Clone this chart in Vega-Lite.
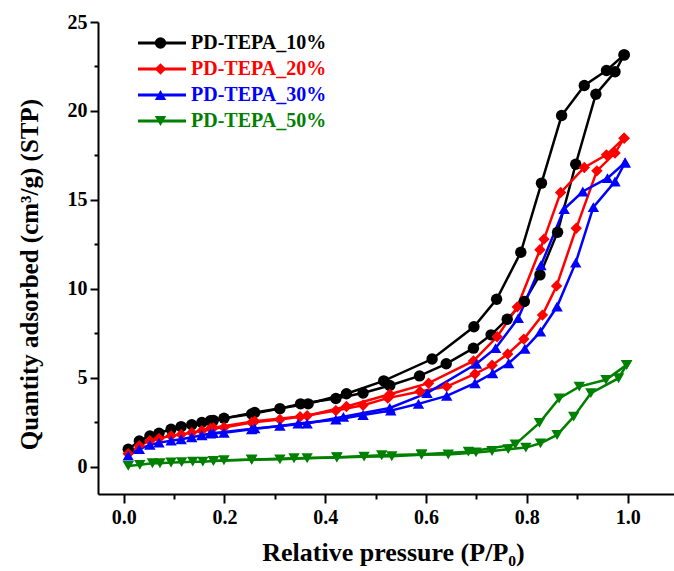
{
  "$schema": "https://vega.github.io/schema/vega-lite/v6.json",
  "width": 576,
  "height": 472,
  "autosize": {"type": "none"},
  "padding": {"left": 98, "top": 22, "right": 0, "bottom": 77},
  "background": "white",
  "config": {
    "view": {"stroke": null},
    "font": "Liberation Serif",
    "axis": {
      "grid": false,
      "domainColor": "black",
      "domainWidth": 2,
      "tickColor": "black",
      "tickWidth": 2,
      "labelColor": "black",
      "labelFont": "Liberation Serif",
      "labelFontSize": 20,
      "labelFontWeight": "bold",
      "labelOverlap": false,
      "labelFlush": false,
      "titleFont": "Liberation Serif",
      "titleFontSize": 26,
      "titleFontWeight": "bold",
      "titleColor": "black"
    }
  },
  "data": {
    "values": [
      {"s": "PD-TEPA_10%", "b": "a", "i": 0, "p": 0.009, "v": 0.98},
      {"s": "PD-TEPA_10%", "b": "a", "i": 1, "p": 0.031, "v": 1.44},
      {"s": "PD-TEPA_10%", "b": "a", "i": 2, "p": 0.052, "v": 1.72},
      {"s": "PD-TEPA_10%", "b": "a", "i": 3, "p": 0.07, "v": 1.88},
      {"s": "PD-TEPA_10%", "b": "a", "i": 4, "p": 0.094, "v": 2.1},
      {"s": "PD-TEPA_10%", "b": "a", "i": 5, "p": 0.114, "v": 2.25},
      {"s": "PD-TEPA_10%", "b": "a", "i": 6, "p": 0.135, "v": 2.35},
      {"s": "PD-TEPA_10%", "b": "a", "i": 7, "p": 0.155, "v": 2.48},
      {"s": "PD-TEPA_10%", "b": "a", "i": 8, "p": 0.172, "v": 2.58},
      {"s": "PD-TEPA_10%", "b": "a", "i": 9, "p": 0.199, "v": 2.72},
      {"s": "PD-TEPA_10%", "b": "a", "i": 10, "p": 0.254, "v": 2.96},
      {"s": "PD-TEPA_10%", "b": "a", "i": 11, "p": 0.31, "v": 3.26},
      {"s": "PD-TEPA_10%", "b": "a", "i": 12, "p": 0.351, "v": 3.53},
      {"s": "PD-TEPA_10%", "b": "a", "i": 13, "p": 0.421, "v": 3.83},
      {"s": "PD-TEPA_10%", "b": "a", "i": 14, "p": 0.475, "v": 4.14},
      {"s": "PD-TEPA_10%", "b": "a", "i": 15, "p": 0.528, "v": 4.56},
      {"s": "PD-TEPA_10%", "b": "a", "i": 16, "p": 0.587, "v": 5.1},
      {"s": "PD-TEPA_10%", "b": "a", "i": 17, "p": 0.64, "v": 5.78},
      {"s": "PD-TEPA_10%", "b": "a", "i": 18, "p": 0.694, "v": 6.66},
      {"s": "PD-TEPA_10%", "b": "a", "i": 19, "p": 0.729, "v": 7.41},
      {"s": "PD-TEPA_10%", "b": "a", "i": 20, "p": 0.761, "v": 8.29},
      {"s": "PD-TEPA_10%", "b": "a", "i": 21, "p": 0.795, "v": 9.28},
      {"s": "PD-TEPA_10%", "b": "a", "i": 22, "p": 0.826, "v": 10.78},
      {"s": "PD-TEPA_10%", "b": "a", "i": 23, "p": 0.861, "v": 13.18},
      {"s": "PD-TEPA_10%", "b": "a", "i": 24, "p": 0.897, "v": 17.0},
      {"s": "PD-TEPA_10%", "b": "a", "i": 25, "p": 0.937, "v": 20.94},
      {"s": "PD-TEPA_10%", "b": "a", "i": 26, "p": 0.975, "v": 22.2},
      {"s": "PD-TEPA_10%", "b": "a", "i": 27, "p": 0.993, "v": 23.15},
      {"s": "PD-TEPA_10%", "b": "d", "i": 0, "p": 0.993, "v": 23.15},
      {"s": "PD-TEPA_10%", "b": "d", "i": 1, "p": 0.958, "v": 22.27},
      {"s": "PD-TEPA_10%", "b": "d", "i": 2, "p": 0.914, "v": 21.43},
      {"s": "PD-TEPA_10%", "b": "d", "i": 3, "p": 0.869, "v": 19.74},
      {"s": "PD-TEPA_10%", "b": "d", "i": 4, "p": 0.829, "v": 15.94},
      {"s": "PD-TEPA_10%", "b": "d", "i": 5, "p": 0.788, "v": 12.05},
      {"s": "PD-TEPA_10%", "b": "d", "i": 6, "p": 0.74, "v": 9.41},
      {"s": "PD-TEPA_10%", "b": "d", "i": 7, "p": 0.695, "v": 7.86},
      {"s": "PD-TEPA_10%", "b": "d", "i": 8, "p": 0.612, "v": 6.05},
      {"s": "PD-TEPA_10%", "b": "d", "i": 9, "p": 0.516, "v": 4.82},
      {"s": "PD-TEPA_10%", "b": "d", "i": 10, "p": 0.442, "v": 4.1},
      {"s": "PD-TEPA_10%", "b": "d", "i": 11, "p": 0.366, "v": 3.53},
      {"s": "PD-TEPA_10%", "b": "d", "i": 12, "p": 0.26, "v": 3.04},
      {"s": "PD-TEPA_10%", "b": "d", "i": 13, "p": 0.178, "v": 2.6},

      {"s": "PD-TEPA_20%", "b": "a", "i": 0, "p": 0.009, "v": 0.72},
      {"s": "PD-TEPA_20%", "b": "a", "i": 1, "p": 0.031, "v": 1.18},
      {"s": "PD-TEPA_20%", "b": "a", "i": 2, "p": 0.052, "v": 1.45},
      {"s": "PD-TEPA_20%", "b": "a", "i": 3, "p": 0.07, "v": 1.58},
      {"s": "PD-TEPA_20%", "b": "a", "i": 4, "p": 0.094, "v": 1.73},
      {"s": "PD-TEPA_20%", "b": "a", "i": 5, "p": 0.114, "v": 1.8},
      {"s": "PD-TEPA_20%", "b": "a", "i": 6, "p": 0.135, "v": 1.91},
      {"s": "PD-TEPA_20%", "b": "a", "i": 7, "p": 0.155, "v": 2.02},
      {"s": "PD-TEPA_20%", "b": "a", "i": 8, "p": 0.172, "v": 2.14},
      {"s": "PD-TEPA_20%", "b": "a", "i": 9, "p": 0.199, "v": 2.2},
      {"s": "PD-TEPA_20%", "b": "a", "i": 10, "p": 0.254, "v": 2.48},
      {"s": "PD-TEPA_20%", "b": "a", "i": 11, "p": 0.31, "v": 2.65},
      {"s": "PD-TEPA_20%", "b": "a", "i": 12, "p": 0.35, "v": 2.8},
      {"s": "PD-TEPA_20%", "b": "a", "i": 13, "p": 0.421, "v": 3.15},
      {"s": "PD-TEPA_20%", "b": "a", "i": 14, "p": 0.475, "v": 3.45},
      {"s": "PD-TEPA_20%", "b": "a", "i": 15, "p": 0.524, "v": 3.85},
      {"s": "PD-TEPA_20%", "b": "a", "i": 16, "p": 0.588, "v": 4.22},
      {"s": "PD-TEPA_20%", "b": "a", "i": 17, "p": 0.641, "v": 4.5},
      {"s": "PD-TEPA_20%", "b": "a", "i": 18, "p": 0.697, "v": 5.21},
      {"s": "PD-TEPA_20%", "b": "a", "i": 19, "p": 0.731, "v": 5.7},
      {"s": "PD-TEPA_20%", "b": "a", "i": 20, "p": 0.762, "v": 6.33},
      {"s": "PD-TEPA_20%", "b": "a", "i": 21, "p": 0.794, "v": 7.17},
      {"s": "PD-TEPA_20%", "b": "a", "i": 22, "p": 0.831, "v": 8.52},
      {"s": "PD-TEPA_20%", "b": "a", "i": 23, "p": 0.859, "v": 10.16},
      {"s": "PD-TEPA_20%", "b": "a", "i": 24, "p": 0.898, "v": 13.4},
      {"s": "PD-TEPA_20%", "b": "a", "i": 25, "p": 0.939, "v": 16.63},
      {"s": "PD-TEPA_20%", "b": "a", "i": 26, "p": 0.975, "v": 17.63},
      {"s": "PD-TEPA_20%", "b": "a", "i": 27, "p": 0.993, "v": 18.47},
      {"s": "PD-TEPA_20%", "b": "d", "i": 0, "p": 0.993, "v": 18.47},
      {"s": "PD-TEPA_20%", "b": "d", "i": 1, "p": 0.958, "v": 17.53},
      {"s": "PD-TEPA_20%", "b": "d", "i": 2, "p": 0.914, "v": 16.82},
      {"s": "PD-TEPA_20%", "b": "d", "i": 3, "p": 0.867, "v": 15.41},
      {"s": "PD-TEPA_20%", "b": "d", "i": 4, "p": 0.834, "v": 12.79},
      {"s": "PD-TEPA_20%", "b": "d", "i": 5, "p": 0.826, "v": 12.19},
      {"s": "PD-TEPA_20%", "b": "d", "i": 6, "p": 0.781, "v": 8.98},
      {"s": "PD-TEPA_20%", "b": "d", "i": 7, "p": 0.741, "v": 7.3},
      {"s": "PD-TEPA_20%", "b": "d", "i": 8, "p": 0.694, "v": 5.94},
      {"s": "PD-TEPA_20%", "b": "d", "i": 9, "p": 0.605, "v": 4.69},
      {"s": "PD-TEPA_20%", "b": "d", "i": 10, "p": 0.528, "v": 4.07},
      {"s": "PD-TEPA_20%", "b": "d", "i": 11, "p": 0.442, "v": 3.38},
      {"s": "PD-TEPA_20%", "b": "d", "i": 12, "p": 0.364, "v": 2.86},
      {"s": "PD-TEPA_20%", "b": "d", "i": 13, "p": 0.26, "v": 2.55},
      {"s": "PD-TEPA_20%", "b": "d", "i": 14, "p": 0.178, "v": 2.18},

      {"s": "PD-TEPA_30%", "b": "a", "i": 0, "p": 0.009, "v": 0.62},
      {"s": "PD-TEPA_30%", "b": "a", "i": 1, "p": 0.031, "v": 0.98},
      {"s": "PD-TEPA_30%", "b": "a", "i": 2, "p": 0.052, "v": 1.22},
      {"s": "PD-TEPA_30%", "b": "a", "i": 3, "p": 0.07, "v": 1.35},
      {"s": "PD-TEPA_30%", "b": "a", "i": 4, "p": 0.094, "v": 1.46},
      {"s": "PD-TEPA_30%", "b": "a", "i": 5, "p": 0.114, "v": 1.54},
      {"s": "PD-TEPA_30%", "b": "a", "i": 6, "p": 0.135, "v": 1.65},
      {"s": "PD-TEPA_30%", "b": "a", "i": 7, "p": 0.155, "v": 1.76},
      {"s": "PD-TEPA_30%", "b": "a", "i": 8, "p": 0.172, "v": 1.86},
      {"s": "PD-TEPA_30%", "b": "a", "i": 9, "p": 0.199, "v": 1.9},
      {"s": "PD-TEPA_30%", "b": "a", "i": 10, "p": 0.254, "v": 2.1},
      {"s": "PD-TEPA_30%", "b": "a", "i": 11, "p": 0.31, "v": 2.29},
      {"s": "PD-TEPA_30%", "b": "a", "i": 12, "p": 0.346, "v": 2.42},
      {"s": "PD-TEPA_30%", "b": "a", "i": 13, "p": 0.421, "v": 2.64},
      {"s": "PD-TEPA_30%", "b": "a", "i": 14, "p": 0.475, "v": 2.9},
      {"s": "PD-TEPA_30%", "b": "a", "i": 15, "p": 0.53, "v": 3.15},
      {"s": "PD-TEPA_30%", "b": "a", "i": 16, "p": 0.585, "v": 3.53},
      {"s": "PD-TEPA_30%", "b": "a", "i": 17, "p": 0.641, "v": 3.98},
      {"s": "PD-TEPA_30%", "b": "a", "i": 18, "p": 0.697, "v": 4.69},
      {"s": "PD-TEPA_30%", "b": "a", "i": 19, "p": 0.732, "v": 5.25},
      {"s": "PD-TEPA_30%", "b": "a", "i": 20, "p": 0.764, "v": 5.81},
      {"s": "PD-TEPA_30%", "b": "a", "i": 21, "p": 0.796, "v": 6.63},
      {"s": "PD-TEPA_30%", "b": "a", "i": 22, "p": 0.827, "v": 7.59},
      {"s": "PD-TEPA_30%", "b": "a", "i": 23, "p": 0.86, "v": 9.0},
      {"s": "PD-TEPA_30%", "b": "a", "i": 24, "p": 0.897, "v": 11.47},
      {"s": "PD-TEPA_30%", "b": "a", "i": 25, "p": 0.932, "v": 14.59},
      {"s": "PD-TEPA_30%", "b": "a", "i": 26, "p": 0.975, "v": 16.03},
      {"s": "PD-TEPA_30%", "b": "a", "i": 27, "p": 0.995, "v": 17.1},
      {"s": "PD-TEPA_30%", "b": "d", "i": 0, "p": 0.995, "v": 17.1},
      {"s": "PD-TEPA_30%", "b": "d", "i": 1, "p": 0.96, "v": 16.22},
      {"s": "PD-TEPA_30%", "b": "d", "i": 2, "p": 0.911, "v": 15.47},
      {"s": "PD-TEPA_30%", "b": "d", "i": 3, "p": 0.874, "v": 14.48},
      {"s": "PD-TEPA_30%", "b": "d", "i": 4, "p": 0.828, "v": 11.32},
      {"s": "PD-TEPA_30%", "b": "d", "i": 5, "p": 0.783, "v": 8.35},
      {"s": "PD-TEPA_30%", "b": "d", "i": 6, "p": 0.738, "v": 6.66},
      {"s": "PD-TEPA_30%", "b": "d", "i": 7, "p": 0.7, "v": 5.78},
      {"s": "PD-TEPA_30%", "b": "d", "i": 8, "p": 0.602, "v": 4.13},
      {"s": "PD-TEPA_30%", "b": "d", "i": 9, "p": 0.528, "v": 3.3},
      {"s": "PD-TEPA_30%", "b": "d", "i": 10, "p": 0.436, "v": 2.8},
      {"s": "PD-TEPA_30%", "b": "d", "i": 11, "p": 0.364, "v": 2.42},
      {"s": "PD-TEPA_30%", "b": "d", "i": 12, "p": 0.26, "v": 2.15},
      {"s": "PD-TEPA_30%", "b": "d", "i": 13, "p": 0.178, "v": 1.88},

      {"s": "PD-TEPA_50%", "b": "a", "i": 0, "p": 0.009, "v": 0.04},
      {"s": "PD-TEPA_50%", "b": "a", "i": 1, "p": 0.032, "v": 0.1},
      {"s": "PD-TEPA_50%", "b": "a", "i": 2, "p": 0.057, "v": 0.19},
      {"s": "PD-TEPA_50%", "b": "a", "i": 3, "p": 0.072, "v": 0.19},
      {"s": "PD-TEPA_50%", "b": "a", "i": 4, "p": 0.094, "v": 0.23},
      {"s": "PD-TEPA_50%", "b": "a", "i": 5, "p": 0.115, "v": 0.25},
      {"s": "PD-TEPA_50%", "b": "a", "i": 6, "p": 0.137, "v": 0.28},
      {"s": "PD-TEPA_50%", "b": "a", "i": 7, "p": 0.157, "v": 0.28},
      {"s": "PD-TEPA_50%", "b": "a", "i": 8, "p": 0.178, "v": 0.32},
      {"s": "PD-TEPA_50%", "b": "a", "i": 9, "p": 0.199, "v": 0.36},
      {"s": "PD-TEPA_50%", "b": "a", "i": 10, "p": 0.254, "v": 0.38},
      {"s": "PD-TEPA_50%", "b": "a", "i": 11, "p": 0.31, "v": 0.41},
      {"s": "PD-TEPA_50%", "b": "a", "i": 12, "p": 0.364, "v": 0.47},
      {"s": "PD-TEPA_50%", "b": "a", "i": 13, "p": 0.423, "v": 0.51},
      {"s": "PD-TEPA_50%", "b": "a", "i": 14, "p": 0.477, "v": 0.56},
      {"s": "PD-TEPA_50%", "b": "a", "i": 15, "p": 0.532, "v": 0.58},
      {"s": "PD-TEPA_50%", "b": "a", "i": 16, "p": 0.591, "v": 0.66},
      {"s": "PD-TEPA_50%", "b": "a", "i": 17, "p": 0.644, "v": 0.68},
      {"s": "PD-TEPA_50%", "b": "a", "i": 18, "p": 0.699, "v": 0.8},
      {"s": "PD-TEPA_50%", "b": "a", "i": 19, "p": 0.731, "v": 0.88},
      {"s": "PD-TEPA_50%", "b": "a", "i": 20, "p": 0.763, "v": 0.98},
      {"s": "PD-TEPA_50%", "b": "a", "i": 21, "p": 0.798, "v": 1.07},
      {"s": "PD-TEPA_50%", "b": "a", "i": 22, "p": 0.827, "v": 1.31},
      {"s": "PD-TEPA_50%", "b": "a", "i": 23, "p": 0.86, "v": 1.78},
      {"s": "PD-TEPA_50%", "b": "a", "i": 24, "p": 0.893, "v": 2.81},
      {"s": "PD-TEPA_50%", "b": "a", "i": 25, "p": 0.927, "v": 4.13},
      {"s": "PD-TEPA_50%", "b": "a", "i": 26, "p": 0.982, "v": 4.97},
      {"s": "PD-TEPA_50%", "b": "a", "i": 27, "p": 0.998, "v": 5.72},
      {"s": "PD-TEPA_50%", "b": "d", "i": 0, "p": 0.998, "v": 5.72},
      {"s": "PD-TEPA_50%", "b": "d", "i": 1, "p": 0.957, "v": 4.88},
      {"s": "PD-TEPA_50%", "b": "d", "i": 2, "p": 0.904, "v": 4.5},
      {"s": "PD-TEPA_50%", "b": "d", "i": 3, "p": 0.864, "v": 3.83},
      {"s": "PD-TEPA_50%", "b": "d", "i": 4, "p": 0.825, "v": 2.46},
      {"s": "PD-TEPA_50%", "b": "d", "i": 5, "p": 0.777, "v": 1.25},
      {"s": "PD-TEPA_50%", "b": "d", "i": 6, "p": 0.684, "v": 0.84},
      {"s": "PD-TEPA_50%", "b": "d", "i": 7, "p": 0.591, "v": 0.7},
      {"s": "PD-TEPA_50%", "b": "d", "i": 8, "p": 0.512, "v": 0.64},
      {"s": "PD-TEPA_50%", "b": "d", "i": 9, "p": 0.423, "v": 0.53},
      {"s": "PD-TEPA_50%", "b": "d", "i": 10, "p": 0.338, "v": 0.47},
      {"s": "PD-TEPA_50%", "b": "d", "i": 11, "p": 0.254, "v": 0.4},
      {"s": "PD-TEPA_50%", "b": "d", "i": 12, "p": 0.178, "v": 0.32}
    ]
  },
  "encoding": {
    "x": {
      "field": "p",
      "type": "quantitative",
      "scale": {"domain": [-0.051, 1.092], "nice": false, "zero": false},
      "axis": {
        "title": "Relative pressure (P/P₀)",
        "values": [0, 0.1, 0.2, 0.3, 0.4, 0.5, 0.6, 0.7, 0.8, 0.9, 1.0],
        "labelExpr": "round(datum.value*10) % 2 == 0 ? format(datum.value, '.1f') : ''",
        "tickSize": {"condition": {"test": "round(datum.value*10) % 2 == 0", "value": 9}, "value": 5},
        "labelPadding": 4,
        "titlePadding": 12,
        "titleX": 295
      }
    },
    "y": {
      "field": "v",
      "type": "quantitative",
      "scale": {"domain": [-1.54, 25], "nice": false, "zero": false},
      "axis": {
        "title": "Quantity adsorbed (cm³/g) (STP)",
        "values": [0, 2.5, 5, 7.5, 10, 12.5, 15, 17.5, 20, 22.5, 25],
        "labelExpr": "datum.value % 5 == 0 ? format(datum.value, 'd') : ''",
        "tickSize": {"condition": {"test": "datum.value % 5 == 0", "value": 8}, "value": 4},
        "labelPadding": 3,
        "titleFontSize": 25,
        "titlePadding": 25,
        "titleY": 252
      }
    }
  },
  "layer": [
    {
      "mark": {"type": "line", "strokeWidth": 2.5},
      "encoding": {
        "color": {
          "field": "s",
          "type": "nominal",
          "scale": {
            "domain": ["PD-TEPA_10%", "PD-TEPA_20%", "PD-TEPA_30%", "PD-TEPA_50%"],
            "range": ["#000000", "#ff0000", "#0000ff", "#008000"]
          },
          "legend": {
            "title": null,
            "orient": "none",
            "legendX": 54,
            "legendY": 11,
            "padding": 0,
            "symbolType": "M-4.8,0L4.8,0",
            "symbolSize": 100,
            "symbolStrokeWidth": 3,
            "labelFont": "Liberation Serif",
            "labelFontSize": 20,
            "labelFontWeight": "bold",
            "labelOffset": 19,
            "rowPadding": 6,
            "encode": {"labels": {"update": {"fill": {"scale": "color", "field": "value"}}}}
          }
        },
        "detail": {"field": "b", "type": "nominal"},
        "order": {"field": "i", "type": "quantitative"}
      }
    },
    {
      "mark": {"type": "point", "filled": true, "opacity": 1, "size": 130, "strokeWidth": 0},
      "encoding": {
        "color": {
          "field": "s",
          "type": "nominal",
          "legend": {
            "title": null,
            "orient": "none",
            "legendX": 52.5,
            "legendY": 11,
            "padding": 0,
            "symbolSize": 130,
            "symbolStrokeWidth": 0,
            "labelFont": "Liberation Serif",
            "labelFontSize": 20,
            "labelFontWeight": "bold",
            "labelOpacity": 0,
            "labelExpr": "' '",
            "rowPadding": 6
          }
        },
        "shape": {
          "field": "s",
          "type": "nominal",
          "scale": {
            "domain": ["PD-TEPA_10%", "PD-TEPA_20%", "PD-TEPA_30%", "PD-TEPA_50%"],
            "range": ["circle", "diamond", "triangle-up", "triangle-down"]
          },
          "legend": {
            "title": null,
            "orient": "none",
            "legendX": 52.5,
            "legendY": 11,
            "padding": 0,
            "symbolSize": 130,
            "symbolStrokeWidth": 0,
            "labelFont": "Liberation Serif",
            "labelFontSize": 20,
            "labelFontWeight": "bold",
            "labelOpacity": 0,
            "labelExpr": "' '",
            "rowPadding": 6
          }
        }
      }
    }
  ],
  "resolve": {"legend": {"color": "independent", "shape": "independent"}}
}
